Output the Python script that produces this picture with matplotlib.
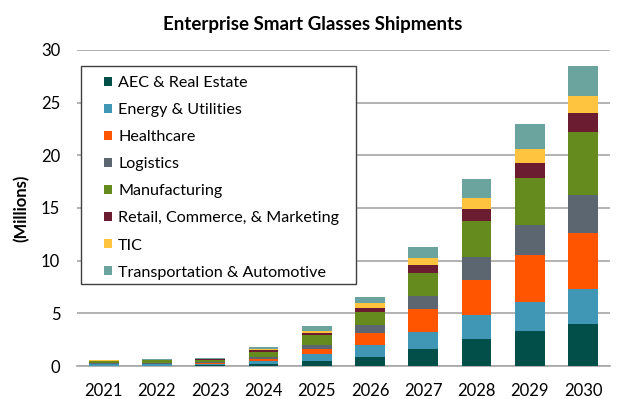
import matplotlib
matplotlib.use("Agg")
import matplotlib.pyplot as plt
from matplotlib.patches import Rectangle
import numpy as np

years = ["2021", "2022", "2023", "2024", "2025", "2026", "2027", "2028", "2029", "2030"]
aec = [0.03, 0.04, 0.05, 0.19, 0.44, 0.89, 1.58, 2.53, 3.32, 3.99]
energy = [0.15, 0.15, 0.14, 0.32, 0.67, 1.07, 1.68, 2.31, 2.79, 3.32]
healthcare = [0.03, 0.04, 0.08, 0.19, 0.53, 1.17, 2.15, 3.32, 4.40, 5.32]
logistics = [0.08, 0.08, 0.08, 0.18, 0.38, 0.76, 1.23, 2.18, 2.85, 3.60]
manufacturing = [0.20, 0.22, 0.22, 0.48, 0.89, 1.20, 2.15, 3.39, 4.49, 5.99]
retail = [0.03, 0.04, 0.05, 0.13, 0.22, 0.44, 0.76, 1.14, 1.46, 1.77]
tic = [0.04, 0.04, 0.05, 0.12, 0.22, 0.41, 0.73, 1.08, 1.30, 1.61]
transport = [0.04, 0.05, 0.06, 0.16, 0.41, 0.63, 1.01, 1.80, 2.37, 2.88]

series = [
    ("AEC & Real Estate", aec, "#024F49"),
    ("Energy & Utilities", energy, "#4096B5"),
    ("Healthcare", healthcare, "#FF5500"),
    ("Logistics", logistics, "#5C6670"),
    ("Manufacturing", manufacturing, "#658B1E"),
    ("Retail, Commerce, & Marketing", retail, "#6B1C31"),
    ("TIC", tic, "#FFC43F"),
    ("Transportation & Automotive", transport, "#6BA49F"),
]

plt.rcParams['font.family'] = ['Lato', 'DejaVu Sans']

fig = plt.figure(figsize=(6.26, 3.99), dpi=100)
ax = fig.add_axes([0.123, 0.0827, 0.851, 0.792])

x = np.arange(len(years))
bottom = np.zeros(len(years))
for name, vals, color in series:
    ax.bar(x, vals, 0.56, bottom=bottom, color=color, label=name, zorder=3)
    bottom += np.array(vals)

ax.set_xlim(-0.5, 9.5)
ax.set_ylim(0, 30)
ax.set_yticks([0, 5, 10, 15, 20, 25, 30])
ax.set_xticks(x)
ax.set_xticklabels(years, fontsize=12)
ax.tick_params(axis='y', labelsize=12, length=0, pad=12)
ax.tick_params(axis='x', length=0, pad=12)
ax.yaxis.grid(True, color="#A6A6A6", linewidth=1.2, zorder=0)
for s in ["left", "right", "top"]:
    ax.spines[s].set_visible(False)
ax.spines["bottom"].set_color("#A6A6A6")
ax.spines["bottom"].set_linewidth(1.2)

ax.set_ylabel("(Millions)", fontsize=12, fontweight="bold", labelpad=8)
fig.text(0.5, 0.938, "Enterprise Smart Glasses Shipments", ha="center", va="center",
         fontsize=13.5, fontweight="bold")

# legend frame drawn separately
frame = Rectangle((0.0075, 0.259), 0.516, 0.69, transform=ax.transAxes,
                  facecolor="white", edgecolor="#404040", linewidth=1.0, zorder=5)
ax.add_patch(frame)
leg = ax.legend(loc="upper left", bbox_to_anchor=(0.0507, 0.917), borderaxespad=0,
                borderpad=0, fontsize=11.6, frameon=False, handlelength=0.5,
                handleheight=0.5, handletextpad=0.37, labelspacing=0.81)
leg.set_zorder(6)

fig.savefig("out.png", dpi=100)
